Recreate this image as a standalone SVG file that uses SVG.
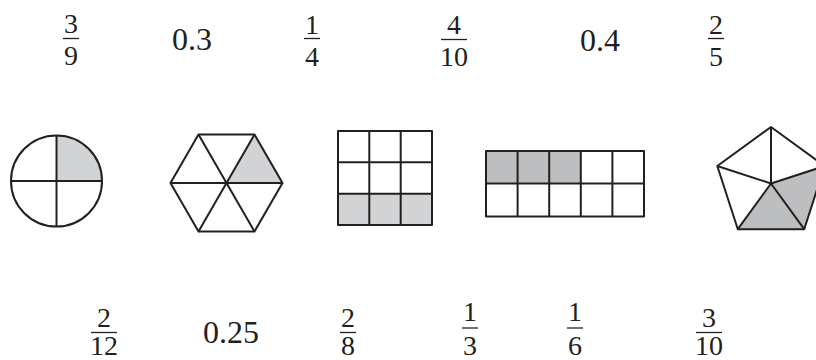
<svg xmlns="http://www.w3.org/2000/svg" width="816" height="360" viewBox="0 0 816 360">
<style>
.bar{stroke:#231f20;stroke-width:1.3}
.s{fill:none;stroke:#231f20;stroke-width:2;stroke-linejoin:round}
.l{fill:#d1d3d4}
.k{fill:#bcbec0}
</style>
<rect width="816" height="360" fill="#fff"/>
<g font-family="'Liberation Serif', 'Times New Roman', 'DejaVu Serif', serif" fill="#231f20" text-anchor="middle">
<g id="top-labels" font-size="28">
<g id="f-3-9"><text x="71" y="33">3</text><line class="bar" x1="63" y1="38.5" x2="79" y2="38.5"/><text x="71" y="65">9</text></g>
<g id="d-0-3"><text font-size="32" x="192" y="50">0.3</text></g>
<g id="f-1-4"><text x="312" y="34">1</text><line class="bar" x1="304" y1="38.5" x2="320" y2="38.5"/><text x="312" y="66">4</text></g>
<g id="f-4-10"><text x="454" y="34">4</text><line class="bar" x1="441" y1="39.5" x2="467" y2="39.5"/><text x="454" y="66">10</text></g>
<g id="d-0-4"><text font-size="32" x="600" y="51">0.4</text></g>
<g id="f-2-5"><text x="716" y="34">2</text><line class="bar" x1="708" y1="38.5" x2="724" y2="38.5"/><text x="716" y="66">5</text></g>
</g>
<g id="bottom-labels" font-size="28">
<g id="f-2-12"><text x="104" y="326.5">2</text><line class="bar" x1="91" y1="332.5" x2="117" y2="332.5"/><text x="104" y="355">12</text></g>
<g id="d-0-25"><text font-size="32" x="231" y="343">0.25</text></g>
<g id="f-2-8"><text x="348" y="326.5">2</text><line class="bar" x1="340" y1="332.5" x2="356" y2="332.5"/><text x="348" y="355">8</text></g>
<g id="f-1-3"><text x="470" y="321">1</text><line class="bar" x1="462" y1="328" x2="478" y2="328"/><text x="470" y="355">3</text></g>
<g id="f-1-6"><text x="575" y="321">1</text><line class="bar" x1="567" y1="328" x2="583" y2="328"/><text x="575" y="355">6</text></g>
<g id="f-3-10"><text x="709" y="326.5">3</text><line class="bar" x1="696" y1="332.5" x2="722" y2="332.5"/><text x="709" y="355">10</text></g>
</g>
</g>
<g id="circle">
<path class="l" d="M56.5,181 L56.5,135.5 A45.5,45.5 0 0 1 102,181 Z"/>
<circle class="s" cx="56.5" cy="181" r="45.5"/>
<line class="s" x1="11" y1="181" x2="102" y2="181"/>
<line class="s" x1="56.5" y1="135.5" x2="56.5" y2="226.5"/>
</g>
<g id="hexagon">
<polygon class="l" points="226.5,183 254.5,134.5 282.5,183"/>
<polygon class="s" points="282.5,183 254.5,134.5 198.5,134.5 170.5,183 198.5,231.5 254.5,231.5"/>
<line class="s" x1="170.5" y1="183" x2="282.5" y2="183"/>
<line class="s" x1="198.5" y1="134.5" x2="254.5" y2="231.5"/>
<line class="s" x1="254.5" y1="134.5" x2="198.5" y2="231.5"/>
</g>
<g id="grid3x3">
<rect class="l" x="338" y="193.7" width="94" height="31.3"/>
<rect class="s" x="338" y="131" width="94" height="94"/>
<line class="s" x1="369.3" y1="131" x2="369.3" y2="225"/>
<line class="s" x1="400.7" y1="131" x2="400.7" y2="225"/>
<line class="s" x1="338" y1="162.3" x2="432" y2="162.3"/>
<line class="s" x1="338" y1="193.7" x2="432" y2="193.7"/>
</g>
<g id="grid5x2">
<rect class="k" x="486" y="151" width="94.8" height="32.5"/>
<rect class="s" x="486" y="151" width="158" height="65.5"/>
<line class="s" x1="517.6" y1="151" x2="517.6" y2="216.5"/>
<line class="s" x1="549.2" y1="151" x2="549.2" y2="216.5"/>
<line class="s" x1="580.8" y1="151" x2="580.8" y2="216.5"/>
<line class="s" x1="612.4" y1="151" x2="612.4" y2="216.5"/>
<line class="s" x1="486" y1="183.5" x2="644" y2="183.5"/>
</g>
<g id="pentagon">
<polygon class="k" points="771,183.5 737.8,229.2 804.2,229.2 824.7,166"/>
<polygon class="s" points="771,127 824.7,166 804.2,229.2 737.8,229.2 717.3,166"/>
<line class="s" x1="771" y1="183.5" x2="771" y2="127"/>
<line class="s" x1="771" y1="183.5" x2="824.7" y2="166"/>
<line class="s" x1="771" y1="183.5" x2="804.2" y2="229.2"/>
<line class="s" x1="771" y1="183.5" x2="737.8" y2="229.2"/>
<line class="s" x1="771" y1="183.5" x2="717.3" y2="166"/>
</g>
<g id="connectors"/>
</svg>
